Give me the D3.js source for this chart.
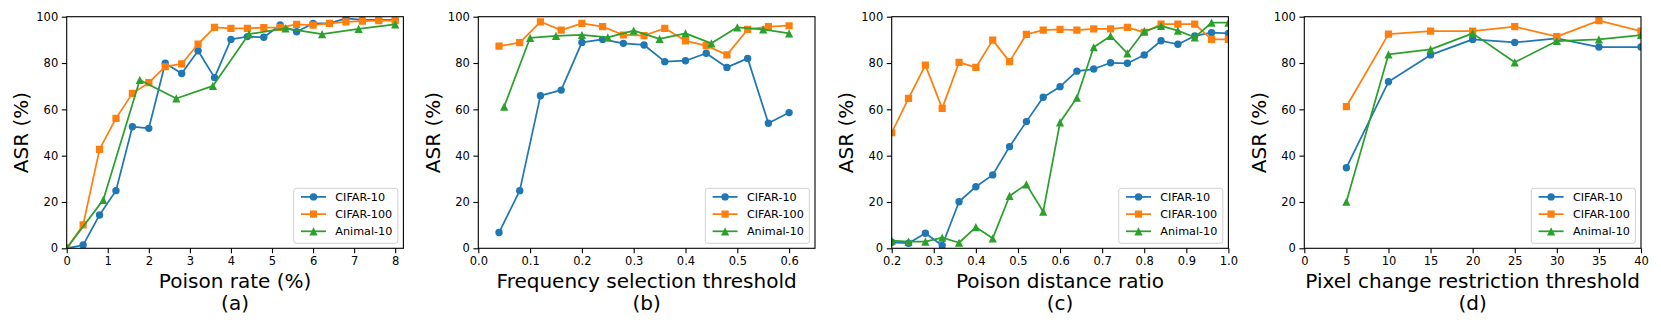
<!DOCTYPE html>
<html>
<head>
<meta charset="utf-8">
<script src="https://cdn.jsdelivr.net/npm/d3@7"></script>
<style>
body { margin: 0; background: #fff; }
text { font-family: "DejaVu Sans", sans-serif; fill: #000; }
</style>
</head>
<body>
<svg id="chart" width="1661" height="332"></svg>
<script>
// series names + colours (matplotlib tab10)
const seriesNames = ["CIFAR-10", "CIFAR-100", "Animal-10"];
const seriesColors = ["#1f77b4", "#ff7f0e", "#2ca02c"];
const seriesMarkers = ["circle", "square", "triangle"];

// (a) poison rate
const rateX = [0, 0.4, 0.8, 1.2, 1.6, 2.0, 2.4, 2.8, 3.2, 3.6, 4.0, 4.4, 4.8, 5.2, 5.6, 6.0, 6.4, 6.8, 7.2, 7.6, 8.0];
const rateCifar10 = [0, 1.4, 14.4, 24.9, 52.5, 51.8, 79.9, 75.5, 85.3, 73.7, 90.2, 91.4, 91.1, 96.4, 93.5, 97.1, 97.1, 99.3, 98.6, 98.6, 98.6];
const rateCifar100 = [0, 10.1, 42.7, 56.1, 66.9, 71.5, 78.4, 79.6, 88.2, 95.4, 95.0, 95.0, 95.3, 95.4, 96.7, 96.4, 97.1, 97.8, 98.1, 98.3, 98.3];
const rateAnimalX = [0, 0.89, 1.78, 2.67, 3.56, 4.44, 5.33, 6.22, 7.11, 8.0];
const rateAnimal = [0, 20.9, 72.7, 64.7, 70.1, 92.5, 95.0, 92.5, 94.7, 96.7];

// (b) frequency selection threshold
const freqX = [0.04, 0.08, 0.12, 0.16, 0.20, 0.24, 0.28, 0.32, 0.36, 0.40, 0.44, 0.48, 0.52, 0.56, 0.60];
const freqCifar10 = [6.8, 24.9, 65.9, 68.3, 88.9, 90.2, 88.5, 87.8, 80.6, 81.0, 84.2, 78.1, 82.0, 54.0, 58.6];
const freqCifar100 = [87.3, 88.8, 97.8, 94.2, 97.1, 95.7, 92.1, 91.8, 95.0, 89.6, 87.5, 83.5, 94.5, 95.7, 96.1];
const freqAnimalX = [0.05, 0.10, 0.15, 0.20, 0.25, 0.30, 0.35, 0.40, 0.45, 0.50, 0.55, 0.60];
const freqAnimal = [61.2, 90.9, 91.7, 92.1, 91.1, 94.0, 90.4, 92.8, 88.5, 95.4, 94.5, 92.8];

// (c) poison distance ratio
const distX = [0.20, 0.24, 0.28, 0.32, 0.36, 0.40, 0.44, 0.48, 0.52, 0.56, 0.60, 0.64, 0.68, 0.72, 0.76, 0.80, 0.84, 0.88, 0.92, 0.96, 1.00];
const distCifar10 = [2.6, 2.2, 6.5, 1.2, 20.1, 26.6, 31.7, 43.9, 54.7, 65.2, 69.8, 76.5, 77.4, 80.1, 79.9, 83.5, 89.6, 88.1, 91.7, 93.1, 92.8];
const distCifar100 = [49.9, 64.7, 79.1, 60.4, 80.3, 78.1, 89.9, 80.6, 92.4, 94.2, 94.5, 94.2, 94.7, 94.7, 95.4, 93.2, 96.8, 96.8, 96.8, 90.2, 90.2];
const distAnimal = [3.3, 2.9, 2.9, 4.6, 2.4, 9.1, 4.3, 22.6, 27.6, 15.8, 54.4, 65.0, 86.8, 91.7, 84.2, 93.8, 96.0, 94.0, 91.1, 97.4, 97.4];

// (d) pixel change restriction threshold
const pixelX = [5, 10, 15, 20, 25, 30, 35, 40];
const pixelCifar10 = [34.8, 71.9, 83.5, 90.2, 88.9, 90.6, 86.9, 86.9];
const pixelCifar100 = [61.2, 92.5, 93.8, 93.8, 95.7, 91.4, 98.3, 93.8];
const pixelAnimal = [20.1, 83.7, 85.9, 92.8, 80.3, 89.5, 90.2, 92.1];

const yTicks = [0, 20, 40, 60, 80, 100];

const panels = [
  { xlabel: "Poison rate (%)", sub: "(a)", xDomain: [0, 8.2],
    xTicks: [0, 1, 2, 3, 4, 5, 6, 7, 8], fmt: d3.format("d"),
    series: [[rateX, rateCifar10], [rateX, rateCifar100], [rateAnimalX, rateAnimal]] },
  { xlabel: "Frequency selection threshold", sub: "(b)", xDomain: [0, 0.65],
    xTicks: [0, 0.1, 0.2, 0.3, 0.4, 0.5, 0.6], fmt: d3.format(".1f"),
    series: [[freqX, freqCifar10], [freqX, freqCifar100], [freqAnimalX, freqAnimal]] },
  { xlabel: "Poison distance ratio", sub: "(c)", xDomain: [0.2, 1.0],
    xTicks: [0.2, 0.3, 0.4, 0.5, 0.6, 0.7, 0.8, 0.9, 1.0], fmt: d3.format(".1f"),
    series: [[distX, distCifar10], [distX, distCifar100], [distX, distAnimal]] },
  { xlabel: "Pixel change restriction threshold", sub: "(d)", xDomain: [0, 40],
    xTicks: [0, 5, 10, 15, 20, 25, 30, 35, 40], fmt: d3.format("d"),
    series: [[pixelX, pixelCifar10], [pixelX, pixelCifar100], [pixelX, pixelAnimal]] }
];

const axLeft = [66.7, 478.3, 891.7, 1304.3];
const axW = 336.7, axTop = 16.7, axBot = 248.3;
const tickFont = 11.5, labFont = 20, legFont = 11.2;

const svg = d3.select("#chart");

// marker path centred on 0,0
function markerPath(kind) {
  if (kind == "circle") return d3.symbol(d3.symbolCircle, Math.PI * 3.7 * 3.7)();
  if (kind == "square") { const s = 3.6; return `M${-s},${-s}H${s}V${s}H${-s}Z`; }
  const h = 4.1; return `M0,${-h}L${h},${h}L${-h},${h}Z`;
}

panels.forEach(function(p, i) {
  const x = d3.scaleLinear().domain(p.xDomain).range([axLeft[i], axLeft[i] + axW]);
  const y = d3.scaleLinear().domain([0, 100]).range([axBot, axTop]);
  const g = svg.append("g");

  g.append("clipPath").attr("id", "clip" + i)
    .append("rect").attr("x", axLeft[i]).attr("y", axTop)
    .attr("width", axW).attr("height", axBot - axTop);

  // axes
  const xa = g.append("g").attr("transform", `translate(0,${axBot})`)
    .call(d3.axisBottom(x).tickValues(p.xTicks).tickFormat(p.fmt).tickSize(4.9).tickPadding(3.6));
  const ya = g.append("g").attr("transform", `translate(${axLeft[i]},0)`)
    .call(d3.axisLeft(y).tickValues(yTicks).tickSize(4.9).tickPadding(3.6));
  [xa, ya].forEach(a => {
    a.select(".domain").remove();
    a.selectAll("line").attr("stroke", "#000").attr("stroke-width", 1.1);
    a.selectAll("text").attr("font-size", tickFont).attr("font-family", "DejaVu Sans");
  });

  // lines + markers
  const plot = g.append("g").attr("clip-path", `url(#clip${i})`);
  p.series.forEach(function(s, k) {
    const pts = s[0].map((v, j) => [v, s[1][j]]);
    plot.append("path").datum(pts)
      .attr("fill", "none").attr("stroke", seriesColors[k]).attr("stroke-width", 1.75)
      .attr("stroke-linejoin", "round")
      .attr("d", d3.line().x(d => x(d[0])).y(d => y(d[1])));
    plot.selectAll(null).data(pts).enter().append("path")
      .attr("d", markerPath(seriesMarkers[k]))
      .attr("transform", d => `translate(${x(d[0])},${y(d[1])})`)
      .attr("fill", seriesColors[k]);
  });

  // frame
  g.append("rect").attr("x", axLeft[i]).attr("y", axTop)
    .attr("width", axW).attr("height", axBot - axTop)
    .attr("fill", "none").attr("stroke", "#000").attr("stroke-width", 1.1);

  // labels
  const cx = axLeft[i] + axW / 2;
  g.append("text").attr("x", cx).attr("y", 287.5).attr("text-anchor", "middle")
    .attr("font-size", labFont).text(p.xlabel);
  g.append("text").attr("x", cx).attr("y", 310).attr("text-anchor", "middle")
    .attr("font-size", labFont).text(p.sub);
  g.append("text")
    .attr("transform", `translate(${axLeft[i] - 38.5},${(axTop + axBot) / 2}) rotate(-90)`)
    .attr("text-anchor", "middle").attr("font-size", labFont).text("ASR (%)");

  // legend
  const lg = g.append("g");
  const box = lg.append("rect");
  const rowH = 17.2;
  let maxW = 0;
  seriesNames.forEach(function(n, k) {
    const ry = 8.6 + k * rowH;
    lg.append("line").attr("x1", 7.3).attr("x2", 32.3).attr("y1", ry).attr("y2", ry)
      .attr("stroke", seriesColors[k]).attr("stroke-width", 1.75);
    lg.append("path").attr("d", markerPath(seriesMarkers[k]))
      .attr("transform", `translate(19.8,${ry})`).attr("fill", seriesColors[k]);
    const t = lg.append("text").attr("x", 41.6).attr("y", ry).attr("dy", "0.36em")
      .attr("font-size", legFont).text(n);
    maxW = Math.max(maxW, t.node().getComputedTextLength());
  });
  const bw = 41.6 + maxW + 5.5, bh = 55;
  box.attr("width", bw).attr("height", bh).attr("rx", 2.5)
    .attr("fill", "#fff").attr("fill-opacity", 0.8)
    .attr("stroke", "#d0d0d0").attr("stroke-width", 1);
  lg.attr("transform", `translate(${axLeft[i] + axW - 5.6 - bw},${axBot - 5 - bh})`);
});
</script>
</body>
</html>
